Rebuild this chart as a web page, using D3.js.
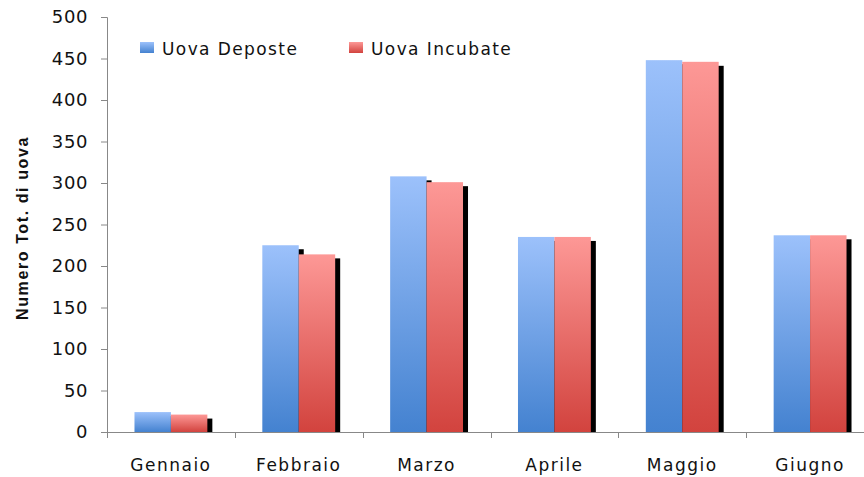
<!DOCTYPE html>
<html>
<head>
<meta charset="utf-8">
<script src="https://cdn.jsdelivr.net/npm/d3@7"></script>
<style>
  body { margin: 0; background: #fff; overflow: hidden; }
  text { font-family: "DejaVu Sans", Verdana, sans-serif; fill: #111; }
</style>
</head>
<body>
<div id="chart"></div>
<script>
/* DATA */
var months = ["Gennaio", "Febbraio", "Marzo", "Aprile", "Maggio", "Giugno"];
var deposte = [24, 225, 308, 235, 448, 237];
var incubate = [21, 214, 301, 235, 446, 237];
var seriesNames = ["Uova Deposte", "Uova Incubate"];
var yTicks = [0, 50, 100, 150, 200, 250, 300, 350, 400, 450, 500];

// plot area runs a little past the right edge, like the original
var margin = {top: 17, right: -10, bottom: 45, left: 107},
  width = 864 - margin.left - margin.right,
  height = 477 - margin.top - margin.bottom;

var xScale = d3.scaleBand()
  .domain(months)
  .range([0, width])
  .paddingInner(0.43)
  .paddingOuter(0.215);

var xSub = d3.scaleBand()
  .domain(seriesNames)
  .range([0, xScale.bandwidth()]);

var yScale = d3.scaleLinear()
  .domain([0, 500])
  .range([height, 0]);

var svg = d3.select("#chart").append("svg")
  .attr("width", 864)
  .attr("height", 477);

// gradients
var defs = svg.append("defs");
function grad(id, top, bottom) {
  var gr = defs.append("linearGradient").attr("id", id)
    .attr("x1", 0).attr("y1", 0).attr("x2", 0).attr("y2", 1);
  gr.append("stop").attr("offset", "0%").attr("stop-color", top);
  gr.append("stop").attr("offset", "100%").attr("stop-color", bottom);
}
grad("gBlue", "#9cc1fb", "#4482d0");
grad("gRed", "#fd9896", "#d2433e");
var fills = ["url(#gBlue)", "url(#gRed)"];

var g = svg.append("g")
  .attr("transform", "translate(" + margin.left + "," + margin.top + ")");

var data = months.map(function(m, i) {
  return {month: m, vals: [deposte[i], incubate[i]]};
});

// bars with drop shadow, series by series
seriesNames.forEach(function(s, k) {
  var rows = data.map(function(d) { return {month: d.month, v: d.vals[k]}; });
  g.selectAll(".shadow" + k)
    .data(rows)
    .enter().append("rect")
    .attr("x", function(d) { return xScale(d.month) + xSub(s) + 5; })
    .attr("y", function(d) { return yScale(d.v) + 4; })
    .attr("width", xSub.bandwidth())
    .attr("height", function(d) { return height - yScale(d.v) - 4; })
    .attr("fill", "#000");
  g.selectAll(".bar" + k)
    .data(rows)
    .enter().append("rect")
    .attr("x", function(d) { return xScale(d.month) + xSub(s); })
    .attr("y", function(d) { return yScale(d.v); })
    .attr("width", xSub.bandwidth())
    .attr("height", function(d) { return height - yScale(d.v); })
    .attr("fill", fills[k]);
});

// y axis
var yAxis = g.append("g")
  .call(d3.axisLeft(yScale).tickValues(yTicks).tickSize(6).tickPadding(13));
yAxis.selectAll("text")
  .style("font-size", "18px")
  .style("letter-spacing", "0.6px")
  .attr("fill", "#111");
yAxis.selectAll("line, path").attr("stroke", "#888");
yAxis.select("path").attr("d", "M-6,0.5H0.5V" + height);

// x axis, ticks between categories
var xAxis = g.append("g")
  .attr("transform", "translate(0," + height + ")");
xAxis.append("line")
  .attr("x1", 0).attr("x2", width).attr("y1", 0.5).attr("y2", 0.5)
  .attr("stroke", "#888");
var bounds = d3.range(months.length + 1).map(function(i) { return i * xScale.step(); });
xAxis.selectAll(".xt")
  .data(bounds)
  .enter().append("line")
  .attr("x1", function(d) { return Math.round(d) + 0.5; })
  .attr("x2", function(d) { return Math.round(d) + 0.5; })
  .attr("y1", 0).attr("y2", 6)
  .attr("stroke", "#888");
xAxis.selectAll(".xl")
  .data(months)
  .enter().append("text")
  .attr("x", function(d) { return xScale(d) + xScale.bandwidth() / 2; })
  .attr("y", 39)
  .attr("text-anchor", "middle")
  .style("font-size", "17px")
  .style("letter-spacing", "1.5px")
  .text(function(d) { return d; });

// y label
svg.append("text")
  .attr("transform", "translate(28,228) rotate(-90)")
  .attr("text-anchor", "middle")
  .style("font-family", "'Liberation Sans', Arial, sans-serif")
  .style("font-weight", "bold")
  .style("font-size", "16px")
  .style("letter-spacing", "1.6px")
  .text("Numero Tot. di uova");

// legend
var legX = [140, 349];
seriesNames.forEach(function(s, k) {
  svg.append("rect")
    .attr("x", legX[k]).attr("y", 42)
    .attr("width", 14).attr("height", 11)
    .attr("fill", fills[k]);
  svg.append("text")
    .attr("x", legX[k] + 22).attr("y", 55)
    .style("font-size", "17px")
    .style("letter-spacing", "1.4px")
    .text(s);
});
</script>
</body>
</html>
